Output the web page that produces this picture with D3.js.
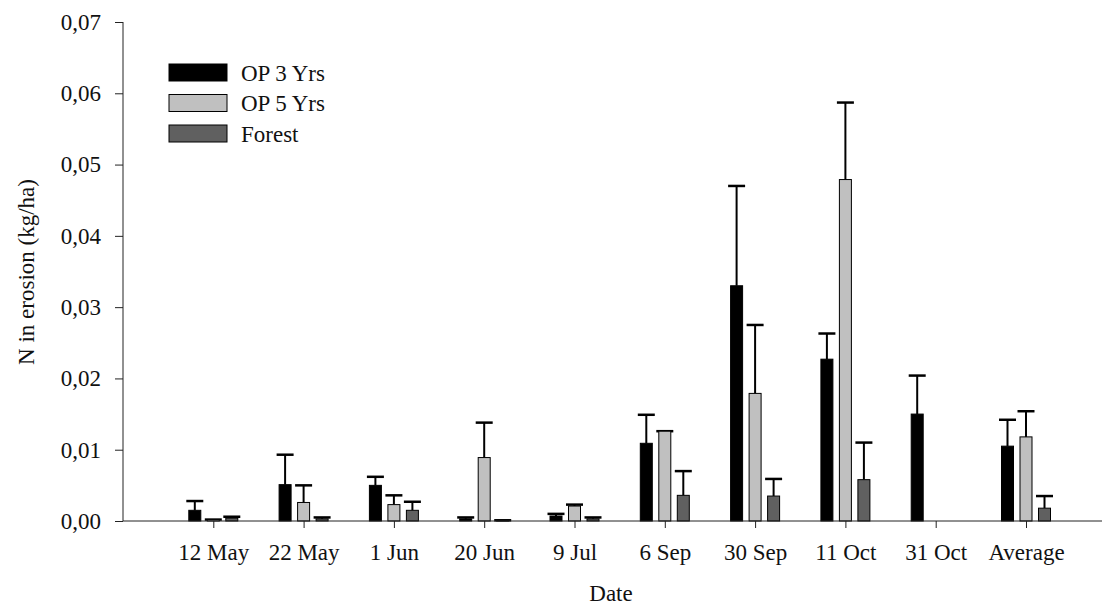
<!DOCTYPE html>
<html><head><meta charset="utf-8">
<script src="https://cdn.jsdelivr.net/npm/d3@7"></script>
<style>body{margin:0;background:#fff}svg{display:block}</style>
</head><body><svg id="c" width="1102" height="608"></svg>
<script>
const categories = ["12 May","22 May","1 Jun","20 Jun","9 Jul","6 Sep","30 Sep","11 Oct","31 Oct","Average"];
const seriesNames = ["OP 3 Yrs","OP 5 Yrs","Forest"];
const op3 = [0.0015,0.0051,0.0050,0.0003,0.0007,0.0109,0.0330,0.0227,0.0150,0.0105];
const op3Err = [0.0013,0.0042,0.0012,0.0002,0.0003,0.0040,0.0140,0.0036,0.0054,0.0037];
const op5 = [0.0002,0.0026,0.0023,0.0089,0.0021,0.0126,0.0179,0.0479,null,0.0118];
const op5Err = [0.0000,0.0024,0.0013,0.0049,0.0002,0.0000,0.0096,0.0108,null,0.0036];
const forest = [0.0004,0.0003,0.0015,0.0001,0.0003,0.0036,0.0035,0.0058,null,0.0018];
const forestErr = [0.0002,0.0002,0.0012,0.0000,0.0002,0.0034,0.0024,0.0052,null,0.0017];
const yTicks = [0,0.01,0.02,0.03,0.04,0.05,0.06,0.07];

const colors = ["#000000","#c0c0c0","#606060"];
const values = [op3, op5, forest];
const errs = [op3Err, op5Err, forestErr];
const FONT = '"Liberation Serif","Times New Roman",Tinos,"Noto Serif","FreeSerif","DejaVu Serif",serif';
const FS = 23;

const svg = d3.select("#c");
const x0 = 123, yBottom = 521, yTop = 22;
const x = d3.scaleLinear().domain([0, 11]).range([x0, x0 + 11*90.3]);
const y = d3.scaleLinear().domain([0, 0.07]).range([yBottom, yTop]);
const offset = d3.scaleLinear().domain([0, 2]).range([-18.5, 18.5]);
const barW = 12, capW = 17;

values.forEach((vals, s) => {
  const g = svg.append("g");
  vals.forEach((v, i) => {
    if (v === null) return;
    const cx = x(i + 1) + offset(s);
    const top = y(v);
    const e = errs[s][i];
    const ey = y(v + e);
    g.append("line").attr("x1", cx).attr("x2", cx).attr("y1", top).attr("y2", ey)
      .attr("stroke", "#000").attr("stroke-width", 2);
    g.append("line").attr("x1", cx - capW/2).attr("x2", cx + capW/2).attr("y1", ey).attr("y2", ey)
      .attr("stroke", "#000").attr("stroke-width", 2.5);
    g.append("rect").attr("x", cx - barW/2).attr("y", top).attr("width", barW)
      .attr("height", yBottom - top).attr("fill", colors[s]).attr("stroke", "#000").attr("stroke-width", 1);
  });
});

const ya = svg.append("g").attr("transform", `translate(${x0},0)`)
  .call(d3.axisLeft(y).tickValues(yTicks).tickSize(8).tickPadding(14)
    .tickFormat(d => d3.format(".2f")(d).replace(".", ",")));
ya.attr("font-family", FONT);
ya.select(".domain").attr("stroke", "#222").attr("d", `M0,${yTop}V${yBottom}`);
ya.selectAll(".tick line").attr("stroke", "#222");
ya.selectAll("text").attr("font-size", FS).attr("fill", "#111");

const xa = svg.append("g").attr("transform", `translate(0,${yBottom})`)
  .call(d3.axisBottom(x).tickValues(d3.range(1, 11)).tickSize(7).tickPadding(16)
    .tickFormat(d => categories[d - 1]));
xa.attr("font-family", FONT);
xa.select(".domain").attr("stroke", "#222").attr("d", `M${x0},0H1102`);
xa.selectAll(".tick line").attr("stroke", "#222");
xa.selectAll("text").attr("font-size", FS).attr("fill", "#111");

svg.append("text").attr("transform", "translate(34,272) rotate(-90)")
  .attr("text-anchor", "middle").attr("font-size", FS).attr("font-family", FONT).attr("fill", "#111")
  .text("N in erosion (kg/ha)");
svg.append("text").attr("x", 611).attr("y", 601)
  .attr("text-anchor", "middle").attr("font-size", FS).attr("font-family", FONT).attr("fill", "#111")
  .text("Date");

const lg = svg.append("g");
seriesNames.forEach((n, i) => {
  const yy = 64 + i * 30.5;
  lg.append("rect").attr("x", 169).attr("y", yy).attr("width", 58).attr("height", 17)
    .attr("fill", colors[i]).attr("stroke", "#000").attr("stroke-width", 1);
  lg.append("text").attr("x", 241).attr("y", yy + 16.5).attr("font-size", FS).attr("font-family", FONT)
    .attr("fill", "#111").text(n);
});
</script></body></html>
